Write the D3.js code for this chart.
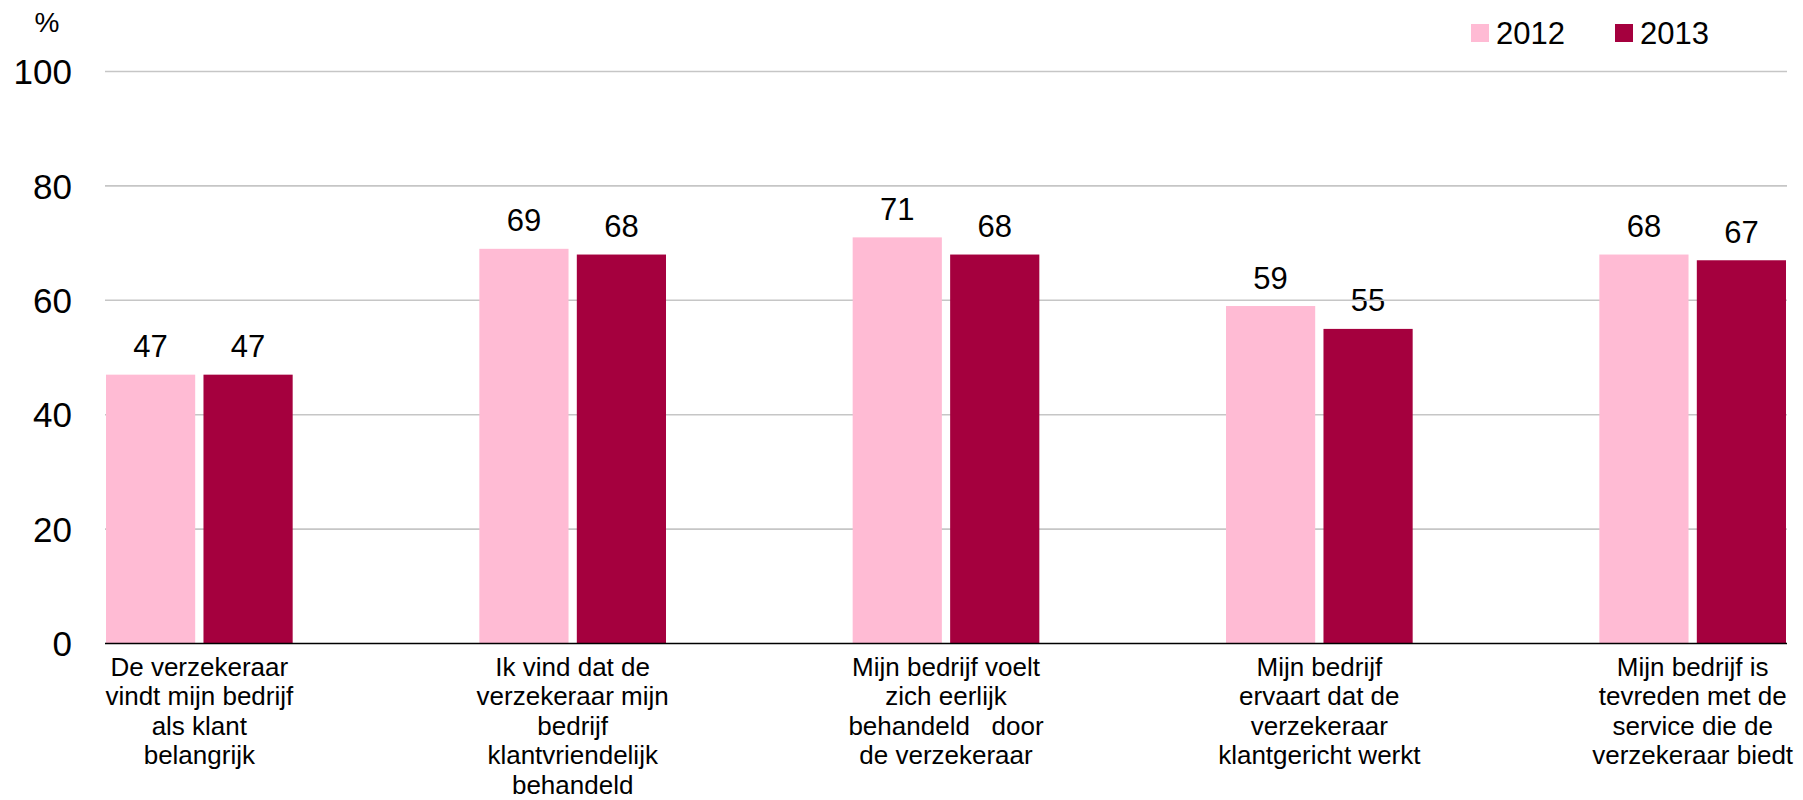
<!DOCTYPE html>
<html>
<head>
<meta charset="utf-8">
<script src="https://cdn.jsdelivr.net/npm/d3@7"></script>
<style>
  html, body { margin: 0; padding: 0; background: #fff; }
  svg { display: block; font-family: "Liberation Sans", Arial, sans-serif; }
</style>
</head>
<body>
<svg id="chart" width="1803" height="800"></svg>
<script>
// Statements (each split into the lines shown under the axis)
const categories = [
  ["De verzekeraar", "vindt mijn bedrijf", "als klant", "belangrijk"],
  ["Ik vind dat de", "verzekeraar mijn", "bedrijf", "klantvriendelijk", "behandeld"],
  ["Mijn bedrijf voelt", "zich eerlijk", "behandeld   door", "de verzekeraar"],
  ["Mijn bedrijf", "ervaart dat de", "verzekeraar", "klantgericht werkt"],
  ["Mijn bedrijf is", "tevreden met de", "service die de", "verzekeraar biedt"]
];
const years = ["2012", "2013"];
const values2012 = [47, 69, 71, 59, 68];
const values2013 = [47, 68, 68, 55, 67];
const yTicks = [0, 20, 40, 60, 80, 100];
const colors = ["#FFBBD4", "#A5003E"];

const series = [values2012, values2013];
const keys = categories.map((c, i) => "c" + i);
const rows = keys.map((k, i) => ({ key: k, lines: categories[i], vals: series.map(s => s[i]) }));

const svg = d3.select("#chart");
const plotLeft = 105, plotRight = 1787;

const y = d3.scaleLinear().domain([0, 100]).range([643.5, 71.5]);
const x0 = d3.scaleBand().domain(keys).range([106, 1786]).paddingInner(0.5).paddingOuter(0);
const x1 = d3.scaleBand().domain(years).range([0, x0.bandwidth()]).paddingInner(0.085).paddingOuter(0);

// Y tick labels
svg.append("g").selectAll("text").data(yTicks).join("text")
  .attr("x", 72).attr("y", d => y(d)).attr("dy", "0.36em")
  .attr("text-anchor", "end").attr("font-size", 35).attr("fill", "#000")
  .text(d => d);

svg.append("text").attr("x", 47).attr("y", 32).attr("text-anchor", "middle")
  .attr("font-size", 28).text("%");

// Value labels above the bars
svg.append("g").selectAll("g").data(rows).join("g")
  .attr("transform", d => `translate(${x0(d.key)},0)`)
  .selectAll("text").data(d => d.vals.map((v, j) => ({ year: years[j], v })))
  .join("text")
  .attr("x", d => x1(d.year) + x1.bandwidth() / 2)
  .attr("y", d => y(d.v) - 17.5)
  .attr("text-anchor", "middle").attr("font-size", 31).attr("fill", "#000")
  .text(d => d.v);

// Horizontal gridlines
svg.append("g").selectAll("line").data(yTicks.filter(t => t > 0)).join("line")
  .attr("x1", plotLeft).attr("x2", plotRight)
  .attr("y1", d => y(d)).attr("y2", d => y(d))
  .attr("stroke", "#c6c6c6").attr("stroke-width", 1.6);

// Bars
svg.append("g").selectAll("g").data(rows).join("g")
  .attr("transform", d => `translate(${x0(d.key)},0)`)
  .selectAll("rect").data(d => d.vals.map((v, j) => ({ year: years[j], v, j })))
  .join("rect")
  .attr("x", d => x1(d.year))
  .attr("width", x1.bandwidth())
  .attr("y", d => y(d.v))
  .attr("height", d => y(0) - y(d.v))
  .attr("fill", d => colors[d.j]);

// Baseline
svg.append("line").attr("x1", plotLeft).attr("x2", plotRight)
  .attr("y1", y(0)).attr("y2", y(0)).attr("stroke", "#000").attr("stroke-width", 1.6);

// Category labels
const cat = svg.append("g").selectAll("text").data(rows).join("text")
  .attr("x", d => x0(d.key) + x0.bandwidth() / 2)
  .attr("y", 675.5)
  .attr("text-anchor", "middle").attr("font-size", 26).attr("fill", "#000")
  .style("white-space", "pre");
cat.selectAll("tspan").data(d => d.lines).join("tspan")
  .attr("x", function () { return d3.select(this.parentNode).attr("x"); })
  .attr("dy", (d, i) => i === 0 ? 0 : 29.6)
  .text(d => d);

// Legend
const legendX = [1471, 1615];
const lg = svg.append("g").selectAll("g").data(years).join("g")
  .attr("transform", (d, i) => `translate(${legendX[i]},24)`);
lg.append("rect").attr("width", 18).attr("height", 18).attr("fill", (d, i) => colors[i]);
lg.append("text").attr("x", 25).attr("y", 20).attr("font-size", 31).text(d => d);
</script>
</body>
</html>
